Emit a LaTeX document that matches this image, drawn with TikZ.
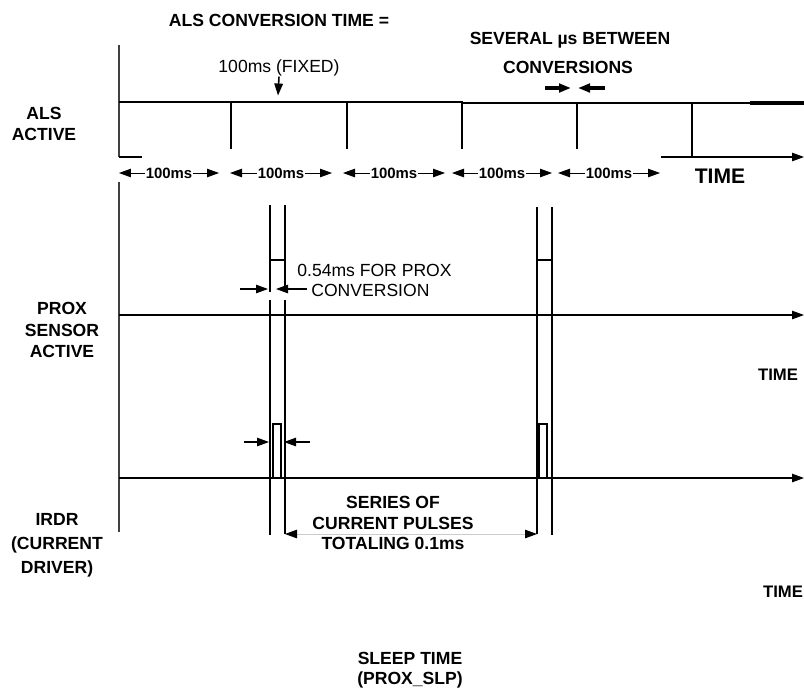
\documentclass[tikz,border=0pt]{standalone}
\usepackage{fontspec}
\setmainfont{Liberation Sans}
\usetikzlibrary{arrows.meta}
\tikzset{
  tip/.style={-{Triangle[length=2.4mm,width=1.7mm]},line width=.6pt},
  dim/.style={{Triangle[length=2.4mm,width=1.7mm,color=black]}-{Triangle[length=2.4mm,width=1.7mm,color=black]},line width=.5pt},
  lab/.style={font=\bfseries\fontsize{10}{12}\selectfont,align=center,inner sep=0pt},
  note/.style={font=\fontsize{10}{12}\selectfont,align=center,inner sep=0pt},
  ms/.style={font=\bfseries\fontsize{8.5}{10}\selectfont,fill=white,inner sep=.5pt},
  axis/.style={line width=1.6pt,draw=black!75},
  base/.style={line width=1.1pt},
  sig/.style={line width=.6pt},
  pulse/.style={line width=.9pt}
}
\begin{document}
\begin{tikzpicture}[x=0.02cm,y=-0.02cm]
  \useasboundingbox (0,0) rectangle (804,691);

  \node[lab] (convtime) at (279,20) {ALS CONVERSION TIME =};
  \node[note] (fixed) at (279,68) {100ms (FIXED)};
  \draw[tip,line width=.9pt] (fixed.south) -- ++(-1,19);
  \node[lab] (several) at (570,40) {SEVERAL µs BETWEEN};
  \node[lab] (conversions) at (568,67) {CONVERSIONS};
  \draw[tip,line width=2pt] (545,88) -- (571,88);
  \draw[tip,line width=2pt] (605,88) -- (578,88);

  \node[lab,font=\bfseries\fontsize{10}{12}\selectfont] (als) at (44,124) {ALS\\ACTIVE};
  \node[lab,font=\bfseries\fontsize{10}{12.3}\selectfont] (prox) at (62,330) {PROX\\SENSOR\\ACTIVE};
  \node[lab,font=\bfseries\fontsize{10}{13.6}\selectfont] (irdr) at (57,545) {IRDR\\(CURRENT\\DRIVER)};
  \node[lab,font=\bfseries\fontsize{10}{11.4}\selectfont] (sleep) at (410,670) {SLEEP TIME\\(PROX\_SLP)};

  \draw[axis] (119,45) -- (119,157);
  \draw[axis] (119,182) -- (119,532);
  \draw[sig] (119,157) -- (142,157);

  \draw[line width=.8pt] (119,102) -- (462,102) -- (462,103) -- (750,103);
  \draw[line width=1.8pt] (750,103) -- (804,103);
  \foreach \x in {231,347,462,577}{\draw[sig] (\x,102) -- (\x,149);}
  \draw[sig] (692,103) -- (692,157);
  \draw[base,tip] (661,157) -- (804,157);
  \node[lab,font=\bfseries\fontsize{12}{14}\selectfont] (time1) at (720,176) {TIME};

  \foreach \a/\b in {119/219,230/332,343/445,452/552,558/660}{
    \draw[dim] (\a,173) -- node[ms]{100ms} (\b,173);
  }

  \draw[base,tip] (119,315) -- (804,315);
  \node[lab,font=\bfseries\fontsize{9.5}{11}\selectfont] (time2) at (778,375) {TIME};
  \draw[base,tip] (119,478) -- (804,478);
  \node[lab,font=\bfseries\fontsize{9.5}{11}\selectfont] (time3) at (783,592) {TIME};

  \draw[sig] (270,205) -- (270,292) (270,300) -- (270,535);
  \draw[sig] (285,205) -- (285,292) (285,300) -- (285,534);
  \draw[sig] (270,260) -- (285,260);
  \draw[pulse] (537,207) -- (537,534);
  \draw[pulse] (552,207) -- (552,535);
  \draw[sig] (537,260) -- (552,260);
  \draw[sig] (273,478) |- (281,424) -- (281,478);
  \draw[sig] (539,478) |- (547,424) -- (547,478);

  \draw[tip] (240,289) -- (268,289);
  \draw[tip] (307,289) -- (276,289);
  \node[note,anchor=west] (proxconv) at (297,270) {0.54ms FOR PROX};
  \node[note,anchor=west] (convline) at (311,290) {CONVERSION};

  \draw[tip] (244,442) -- (269,442);
  \draw[tip] (310,442) -- (284,442);

  \node[lab,font=\bfseries\fontsize{10}{11.7}\selectfont] (series) at (393,523) {SERIES OF\\CURRENT PULSES\\TOTALING 0.1ms};
  \draw[dim,draw=black!20] (285,534) -- (537,534);
\end{tikzpicture}
\end{document}
